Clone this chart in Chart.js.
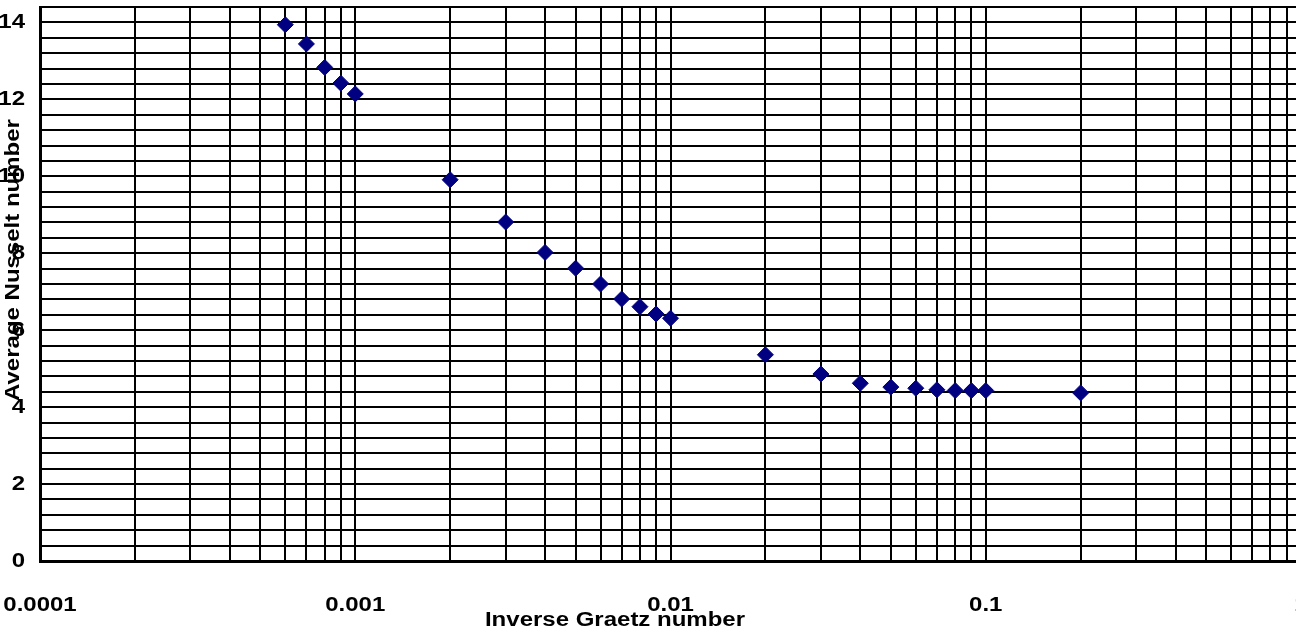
<!DOCTYPE html>
<html><head><meta charset="utf-8">
<script src="https://cdn.jsdelivr.net/npm/chart.js@4/dist/chart.umd.min.js"></script>
<style>
html,body{margin:0;padding:0;background:#fff;overflow:hidden}
#wrap{position:relative;width:1296px;height:632px;overflow:hidden;background:#fff}
#c{position:absolute;left:-30px;top:0}
</style></head><body>
<div id="wrap"><canvas id="c" width="1341" height="632"></canvas></div>
<script>
// Data
const inverseGraetz = [0.0006,0.0007,0.0008,0.0009,0.001,0.002,0.003,0.004,0.005,0.006,0.007,0.008,0.009,0.01,0.02,0.03,0.04,0.05,0.06,0.07,0.08,0.09,0.1,0.2];
const nusselt = [13.94,13.44,12.83,12.42,12.14,9.91,8.81,8.02,7.61,7.20,6.81,6.61,6.42,6.31,5.36,4.86,4.62,4.52,4.49,4.45,4.43,4.43,4.43,4.37];

// Axis ticks and titles
const xDecades = [0.0001,0.001,0.01,0.1,1];
const xTickLabels = ['0.0001','0.001','0.01','0.1','1'];
const xMinorMultipliers = [1,2,3,4,5,6,7,8,9];
const yMin = 0, yMax = 14.4, yGridStep = 0.4;
const yTickValues = [0,2,4,6,8,10,12,14];
const yTickLabels = ['0','2','4','6','8','10','12','14'];
const xTitle = 'Inverse Graetz number';
const yTitle = 'Average Nusselt number';

const FAMILY = "'Liberation Sans', Arial, sans-serif";
const FONT = {family:FAMILY, weight:'bold', size:20, lineHeight:1};
const TEXT_STRETCH = 1.2;

const xGridValues = [];
xDecades.forEach((d,i)=>{
  if (i === xDecades.length-1) { xGridValues.push(d); return; }
  xMinorMultipliers.forEach(m=>xGridValues.push(+(m*d).toPrecision(6)));
});
const yGridValues = [];
for (let i=0; i<=Math.round((yMax-yMin)/yGridStep); i++) yGridValues.push(+(yMin+i*yGridStep).toFixed(4));

function noPad(s){ s.paddingTop = 0; s.paddingBottom = 0; s.paddingLeft = 0; s.paddingRight = 0; }

// Wide (horizontally stretched) text, as in the reference rendering
const stretchText = {
  id:'stretchText',
  beforeDraw(chart){
    const ctx = chart.ctx;
    if (ctx.__stretched) return;
    const orig = ctx.fillText;
    ctx.fillText = function(t, x, y, mw){
      this.save(); this.translate(x, y); this.scale(TEXT_STRETCH, 1);
      if (mw === undefined || mw === null) orig.call(this, t, 0, 0);
      else orig.call(this, t, 0, 0, mw / TEXT_STRETCH);
      this.restore();
    };
    ctx.__stretched = true;
  }
};

// Axis titles placed as in the reference (canvas coordinates)
const axisTitles = {
  id:'axisTitles',
  afterDraw(chart, args, o){
    const ctx = chart.ctx;
    ctx.save();
    ctx.font = 'bold 20px ' + FAMILY;
    ctx.fillStyle = '#000';
    ctx.textAlign = 'center';
    ctx.textBaseline = 'middle';
    ctx.fillText(xTitle, o.xCx, o.xCy);
    ctx.translate(o.yCx, o.yCy);
    ctx.rotate(-Math.PI/2);
    ctx.fillText(yTitle, 0, 0);
    ctx.restore();
  }
};

new Chart(document.getElementById('c'), {
  type:'scatter',
  data:{datasets:[{
    data: inverseGraetz.map((x,i)=>({x, y:nusselt[i]})),
    pointStyle:'rectRot', pointRadius:8, pointHoverRadius:8,
    backgroundColor:'#000080', borderColor:'#000080', borderWidth:1, showLine:false
  }]},
  plugins:[stretchText, axisTitles],
  options:{
    responsive:false, animation:false, devicePixelRatio:1,
    layout:{autoPadding:false, padding:{left:0,right:10,top:7,bottom:0}},
    plugins:{legend:{display:false}, tooltip:{enabled:false},
      axisTitles:{xCx:645, xCy:620, yCx:43, yCy:260}},
    scales:{
      x:{
        type:'logarithmic', min:0.0001, max:1,
        afterBuildTicks:s=>{s.ticks = xGridValues.map(v=>({value:v}));},
        afterFit:s=>{s.height = 71; noPad(s);},
        ticks:{autoSkip:false, maxRotation:0, minRotation:0, color:'#000', font:FONT, padding:34,
          callback:(v)=>{const k = xDecades.findIndex(d=>Math.abs(d-v)/d < 1e-6); return k>=0 ? xTickLabels[k] : '';}},
        grid:{color:'#000', lineWidth:2, drawTicks:false},
        border:{color:'#000', width:3},
        title:{display:false}
      },
      y:{
        type:'linear', min:yMin, max:yMax,
        afterBuildTicks:s=>{s.ticks = yGridValues.map(v=>({value:v}));},
        afterFit:s=>{s.width = 70; noPad(s);},
        ticks:{autoSkip:false, color:'#000', font:FONT, padding:15,
          callback:(v)=>{const k = yTickValues.findIndex(t=>Math.abs(t-v)<1e-6); return k>=0 ? yTickLabels[k] : '';}},
        grid:{color:'#000', lineWidth:2, drawTicks:false},
        border:{color:'#000', width:3},
        title:{display:false}
      }
    }
  }
});
</script>
</body></html>
